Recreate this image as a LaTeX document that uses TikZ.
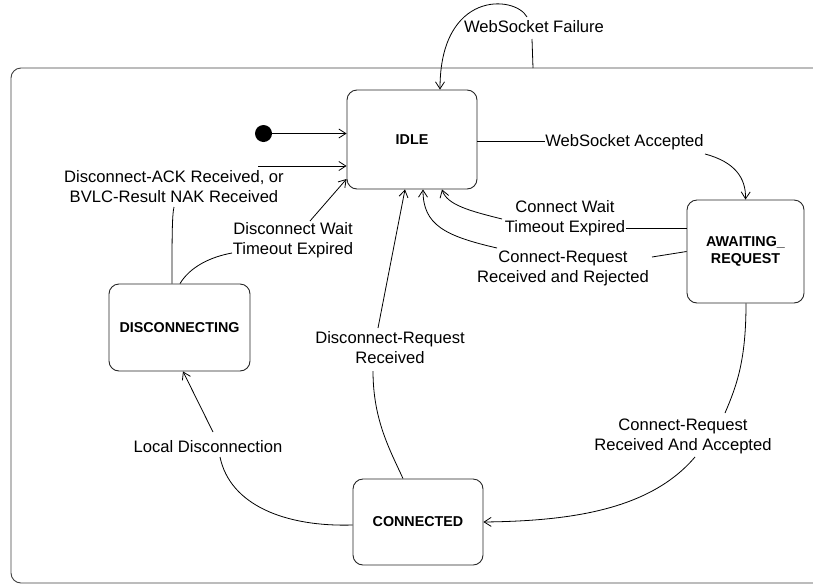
\documentclass[tikz,border=0pt]{standalone}
\usepackage{fontspec}
\setmainfont{Liberation Sans}
\usetikzlibrary{arrows.meta}
\begin{document}
\begin{tikzpicture}[x=1pt,y=-1pt,
  stbox/.style={draw=black!85, line width=0.9pt, rounded corners=10pt, inner sep=0pt, align=center, font=\fontsize{14.3}{17}\selectfont\bfseries},
  lbl/.style={inner sep=0pt, align=center, font=\fontsize{16.6}{20}\selectfont},
  link/.style={line width=0.8pt, draw=black},
  arr/.style={link, -{Straight Barb[length=7pt,width=9pt,line width=0.8pt]}},
  framebox/.style={draw=black!75, line width=0.9pt, rounded corners=10pt},
]
\useasboundingbox (0,0) rectangle (813,584);
% outer frame
\draw[framebox] (11,68) rectangle (870,583);
\coordinate (frameT) at (533,68);

% states
\node[stbox, minimum width=130pt, minimum height=99pt] (idle) at (412,139.5) {IDLE};
\node[stbox, minimum width=117pt, minimum height=103pt] (aw) at (745.5,251.5) {AWAITING\_\\REQUEST};
\node[stbox, minimum width=141pt, minimum height=87pt] (disc) at (179.5,327.5) {DISCONNECTING};
\node[stbox, minimum width=130pt, minimum height=86pt] (conn) at (418,522) {CONNECTED};
\node[circle, fill=black, minimum size=17pt, inner sep=0pt] (init) at (263.5,133.5) {};

% labels
\node[lbl] (dack) at (174,187) {Disconnect-ACK Received, or\\BVLC-Result NAK Received};
\node[lbl] (dwt) at (293,240.5) {Disconnect Wait\\Timeout Expired};
\node[lbl] (cwt) at (565,218.5) {Connect Wait\\Timeout Expired};
\node[lbl] (crr) at (563,268) {Connect-Request\\Received and Rejected};
\node[lbl] (drr) at (390,348) {Disconnect-Request\\Received};
\node[lbl] (ld) at (208,447) {Local Disconnection};
\node[lbl] (cra) at (683,436) {Connect-Request\\Received And Accepted};
\node[lbl] (wsa) at (624.5,142) {WebSocket Accepted};
\node[lbl] (wsf) at (534,27) {WebSocket Failure};

% attach points of labels
\coordinate (dackT) at (258,166);
\coordinate (dackB) at (174,207);
\coordinate (dwtL) at (232,253);
\coordinate (dwtT) at (310,221);
\coordinate (wsaL) at (545,141);
\coordinate (wsaR) at (705,154);
\coordinate (wsfB) at (532,39);
\coordinate (wsfT) at (527,17);
\coordinate (cwtR) at (626,228);
\coordinate (cwtL) at (502,219);
\coordinate (crrR) at (652,257);
\coordinate (crrL) at (497,248);
\coordinate (drrT) at (378,328);
\coordinate (drrB) at (373,371);
\coordinate (ldT) at (213,432);
\coordinate (ldB) at (220,457);
\coordinate (craT) at (725,413);
\coordinate (craB) at (695,457);

% connectors
\draw[arr] (init) -- (idle.west |- init);

\draw[link] ([xshift=-7.5pt]disc.north) .. controls (172,240) and (172,215) .. (dackB);
\draw[arr] (dackT) -- (idle.west |- dackT);

\draw[link] ([xshift=0.5pt]disc.north) .. controls (190,267) and (210,257) .. (dwtL);
\draw[arr] (dwtT) -- ([yshift=-39.5pt]idle.west);

\draw[link] (idle.east |- wsaL) -- (wsaL);
\draw[arr] (wsaR) .. controls (735,162) and (746,178) .. (aw.north);

\draw[link] (frameT) -- (wsfB);
\draw[arr] (wsfT) .. controls (515,-5) and (440,-10) .. ([xshift=28pt]idle.north);

\draw[link] (aw.west |- cwtR) -- (cwtR);
\draw[arr] (cwtL) .. controls (470,211) and (447,205) .. ([xshift=30pt]idle.south);

\draw[link] (aw.west) -- (crrR);
\draw[arr] (crrL) .. controls (445,236) and (423,225) .. ([xshift=11pt]idle.south);

\draw[link] ([xshift=-15pt]conn.north) .. controls (390,450) and (373,420) .. (drrB);
\draw[arr] (drrT) -- ([xshift=-7pt]idle.south);

\draw[link] ([yshift=-3pt]conn.west) .. controls (285,527) and (230,505) .. (ldB);
\draw[arr] (ldT) -- ([xshift=3.5pt]disc.south);

\draw[link] ([xshift=0.5pt]aw.south) .. controls (746,360) and (737,385) .. (craT);
\draw[arr] (craB) .. controls (650,510) and (570,521) .. (conn.east);
\end{tikzpicture}
\end{document}
